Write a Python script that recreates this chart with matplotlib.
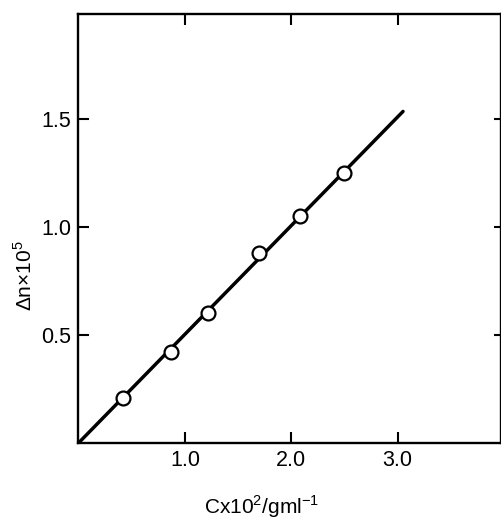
import matplotlib
matplotlib.use("Agg")
import matplotlib.pyplot as plt

# Data
conc = [0.42, 0.87, 1.22, 1.70, 2.08, 2.50]
dn = [0.21, 0.42, 0.60, 0.88, 1.05, 1.25]
fit_x = [0.0, 3.05]
fit_y = [0.0, 1.535]

x_ticks = [1.0, 2.0, 3.0]
x_ticklabels = ["1.0", "2.0", "3.0"]
y_ticks = [0.5, 1.0, 1.5]
y_ticklabels = ["0.5", "1.0", "1.5"]

plt.rcParams['font.family'] = ['Liberation Sans', 'DejaVu Sans']
plt.rcParams['mathtext.fontset'] = 'custom'
plt.rcParams['mathtext.rm'] = 'Liberation Sans'

fig = plt.figure(figsize=(5.02, 5.19), dpi=100)
ax = fig.add_axes([78.5 / 502, 1 - 443 / 519, (501 - 78.5) / 502, (443 - 13.5) / 519])

ax.plot(fit_x, fit_y, color='black', lw=2.5, solid_capstyle='round', zorder=2)
ax.plot(conc, dn, 'o', ms=10, mfc='white', mec='black', mew=1.6, zorder=3)

ax.set_xlim(0, (501 - 78.5) / 106.4)
ax.set_ylim(0, (443 - 13.5) / 216)

ax.set_xticks(x_ticks)
ax.set_xticklabels(x_ticklabels)
ax.set_yticks(y_ticks)
ax.set_yticklabels(y_ticklabels)

ax.tick_params(axis='both', direction='in', length=8, width=1.5, labelsize=15.5,
               pad=5, colors='black')
ax.tick_params(axis='x', top=True)
ax.tick_params(axis='y', right=True)
for t in ax.yaxis.get_major_ticks():
    t.tick2line.set_markersize(5)

for s in ax.spines.values():
    s.set_linewidth(1.7)

ax.set_xlabel("Cx10$^2$/gml$^{-1}$", fontsize=15)
ax.set_ylabel("Δn×10$^5$", fontsize=15)
ax.xaxis.set_label_coords(0.434, -0.118)
ax.yaxis.set_label_coords(-0.10, 0.39)

fig.savefig("out.png", dpi=100)
